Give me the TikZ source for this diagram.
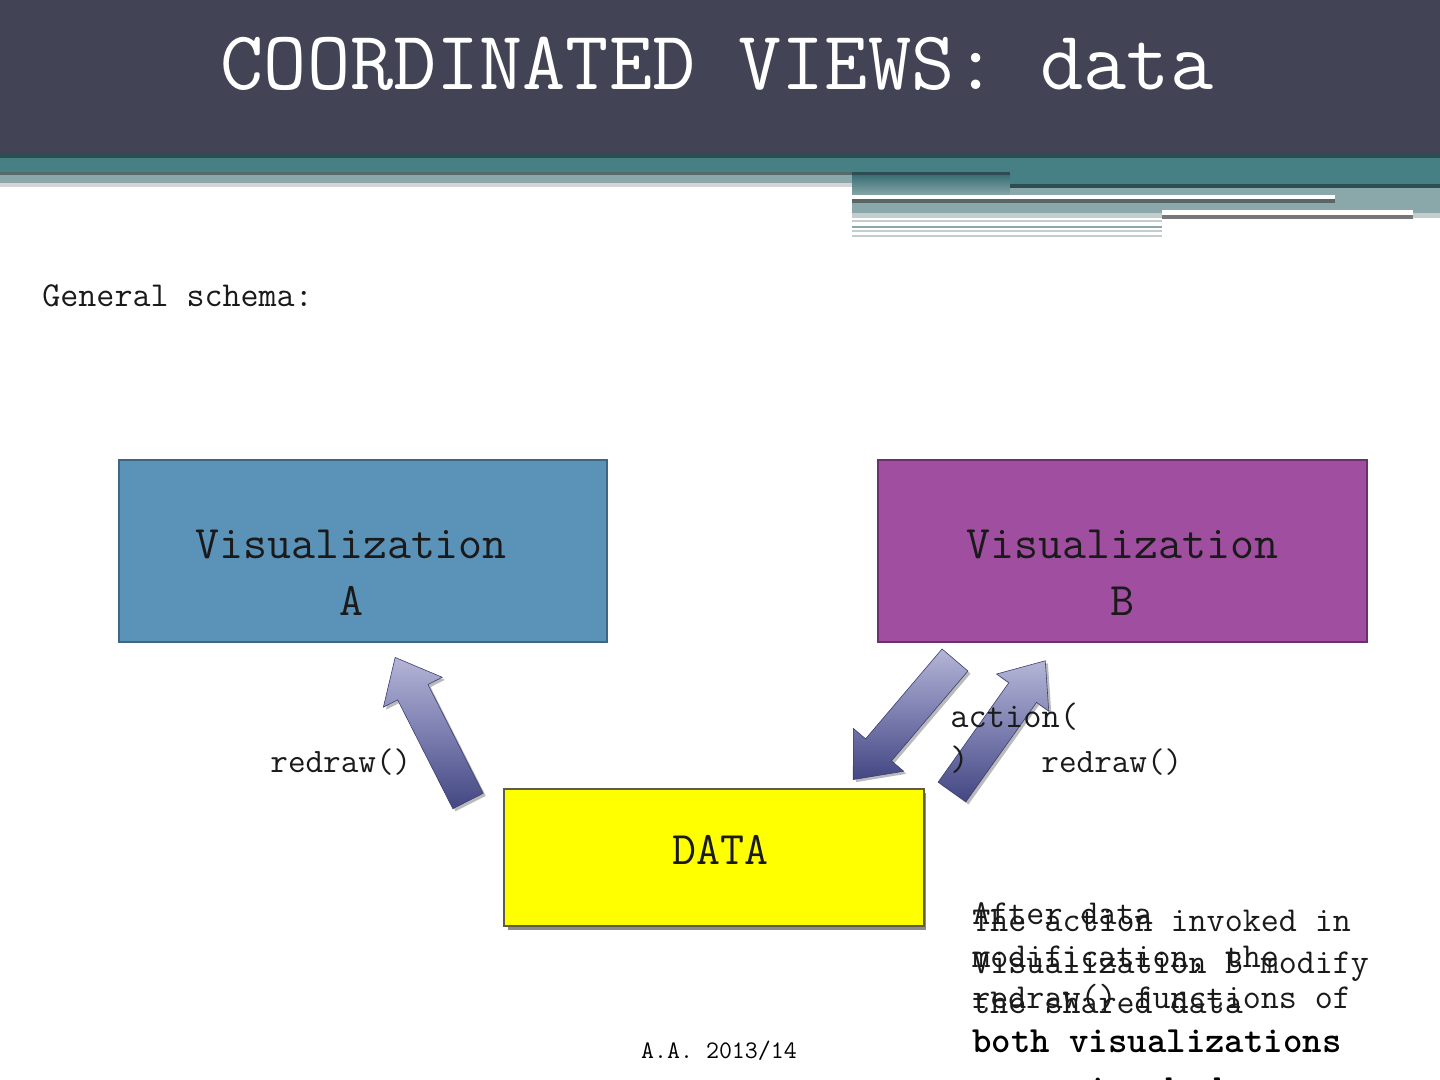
\documentclass[tikz,border=0pt]{standalone}
\usetikzlibrary{shadows}
\definecolor{hdrdark}{HTML}{424456}
\definecolor{hdrline}{HTML}{2D4D52}
\definecolor{hdrteal}{HTML}{467F84}
\definecolor{hdrtealdk}{HTML}{3E7277}
\definecolor{hdrgrayd}{HTML}{58696C}
\definecolor{hdrgray}{HTML}{8AA8AA}
\definecolor{hdrpale}{HTML}{D8D2D6}
\definecolor{hdrpaletwo}{HTML}{C4CCCC}
\definecolor{hdrshadow}{HTML}{5A6666}
\definecolor{hdrshadowtwo}{HTML}{747878}
\definecolor{visAfill}{HTML}{5B92B7}
\definecolor{visAedge}{HTML}{3E6685}
\definecolor{visBfill}{HTML}{A04EA0}
\definecolor{visBedge}{HTML}{6E2F70}
\definecolor{datafill}{HTML}{FFFF00}
\definecolor{dataedge}{HTML}{5E5E48}
\definecolor{arrowlight}{HTML}{B4B5D6}
\definecolor{arrowmid}{HTML}{7C7EB0}
\definecolor{arrowdark}{HTML}{434782}
\definecolor{arrowedge}{HTML}{3B3F72}
\definecolor{txtgray}{HTML}{1A1A1A}
\begin{document}
\begin{tikzpicture}[x=0.5pt,y=-0.5pt,
  boxbase/.style={draw, line width=0.8pt, inner sep=0pt},
  lbl/.style={anchor=base west, inner sep=0pt, text=txtgray},
  boxtext/.style={anchor=base, inner sep=0pt, text=txtgray, font=\fontsize{23.3}{28}\selectfont\ttfamily},
  blockarrow/.style={top color=arrowlight, bottom color=arrowdark, middle color=arrowmid,
     draw=arrowedge, line width=0.3pt, line join=miter,
     drop shadow={shadow xshift=1.3pt, shadow yshift=-1.3pt, fill=black!60, opacity=0.45}}
]
\useasboundingbox (0,0) rectangle (1440,1080);
% ---------- header ----------
\fill[hdrdark] (0,0) rectangle (1440,155);
\fill[hdrline] (0,153) rectangle (1440,158);
\fill[hdrteal] (0,158) rectangle (1440,172);
\fill[hdrteal] (1010,171) rectangle (1440,184);
\fill[hdrgrayd] (0,172) rectangle (852,175);
\fill[hdrgray] (0,175) rectangle (852,183);
\fill[hdrpale] (0,183) rectangle (852,187);
\fill[hdrline] (852,172) rectangle (1010,176);
\shade[top color=hdrtealdk, bottom color=hdrgray] (852,176) rectangle (1010,196);
\fill[hdrline] (1010,184) rectangle (1440,188);
\fill[hdrgray] (1010,188) rectangle (1440,196);
\fill[hdrgray] (852,195) rectangle (1440,214);
\fill[white] (852,195) rectangle (1335,199);
\fill[hdrshadow] (852,199) rectangle (1335,203);
\fill[hdrpaletwo] (852,213) rectangle (1440,218);
\fill[white] (1162,210) rectangle (1413,215);
\fill[hdrshadowtwo] (1162,215) rectangle (1413,219);
\fill[hdrpaletwo] (852,220) rectangle (1162,222);
\fill[hdrgray] (852,226) rectangle (1162,228);
\fill[hdrpaletwo] (852,230) rectangle (1162,232);
\fill[hdrpaletwo] (852,235) rectangle (1162,237);
\node[anchor=base, inner sep=0pt, text=white, font=\fontsize{41.9}{42}\selectfont\ttfamily] (title) at (717,90) {COORDINATED VIEWS: data};
% ---------- body ----------
\node[lbl, font=\fontsize{17.5}{20}\selectfont\ttfamily] (general) at (42,307) {General schema:};
% boxes
\node[boxbase, draw=visAedge, fill=visAfill, minimum width=244pt, minimum height=91pt] (visA) at (363,551) {};
\node[boxbase, draw=visBedge, fill=visBfill, minimum width=244.5pt, minimum height=91pt] (visB) at (1122.5,551) {};
\fill[black!45] (508,793) rectangle (926,930);
\node[boxbase, draw=dataedge, fill=datafill, minimum width=210pt, minimum height=68.5pt] (data) at (714,857.5) {};
\node[boxtext] (visAt1) at (351,558) {Visualization};
\node[boxtext] (visAt2) at (351,615) {A};
\node[boxtext] (visBt1) at (1122,558) {Visualization};
\node[boxtext] (visBt2) at (1122,615) {B};
\node[boxtext] (datat) at (720,864) {DATA};
% block arrows
\begin{scope}[shift={(468,801)}, rotate=116.9]
  \coordinate (a1tail) at (0,0); \coordinate (a1tip) at (161,0);
  \path[blockarrow] (0,-17) -- (122,-17) -- (122,-33) -- (161,0) -- (122,33) -- (122,17) -- (0,17) -- cycle;
\end{scope}
\begin{scope}[shift={(955,660)}, rotate=229.6]
  \coordinate (a2tail) at (0,0); \coordinate (a2tip) at (157,0);
  \path[blockarrow] (0,-17) -- (118,-17) -- (118,-33) -- (157,0) -- (118,33) -- (118,17) -- (0,17) -- cycle;
\end{scope}
\begin{scope}[shift={(952,792)}, rotate=54.6]
  \coordinate (a3tail) at (0,0); \coordinate (a3tip) at (161,0);
  \path[blockarrow] (0,-17) -- (122,-17) -- (122,-32) -- (161,0) -- (122,32) -- (122,17) -- (0,17) -- cycle;
\end{scope}
% arrow labels
\node[lbl, font=\fontsize{17.1}{20}\selectfont\ttfamily] (redrawA) at (270,772) {redraw()};
\node[lbl, font=\fontsize{17.1}{20}\selectfont\ttfamily] (redrawB) at (1041,772) {redraw()};
\node[lbl, font=\fontsize{17.7}{20}\selectfont\ttfamily] (action1) at (950,727) {action(};
\node[lbl, font=\fontsize{17.7}{20}\selectfont\ttfamily] (action2) at (950,770) {)};
% notes (overlapping, as printed)
\begin{scope}[font=\fontsize{17.5}{20}\selectfont\ttfamily]
\node[lbl] (n1a) at (972,931) {The action invoked in};
\node[lbl] (n1b) at (972,973) {Visualization B modify};
\node[lbl] (n1c) at (972,1013) {the shared data};
\node[lbl] (n2a) at (972,924) {After data};
\node[lbl] (n2b) at (972,967) {modification, the};
\node[lbl] (n2c) at (972,1008) {redraw() functions of};
\end{scope}
\node[lbl, font=\fontsize{18.5}{20}\selectfont\ttfamily\bfseries, text=black] (n2d) at (972,1052) {both visualizations};
\node[lbl, font=\fontsize{18.5}{20}\selectfont\ttfamily\bfseries, text=black] (n2e) at (1010,1100) {are invoked};
\node[anchor=base, inner sep=0pt, text=black, font=\fontsize{12.6}{14}\selectfont\ttfamily] (footer) at (719,1058) {A.A. 2013/14};
\end{tikzpicture}
\end{document}
